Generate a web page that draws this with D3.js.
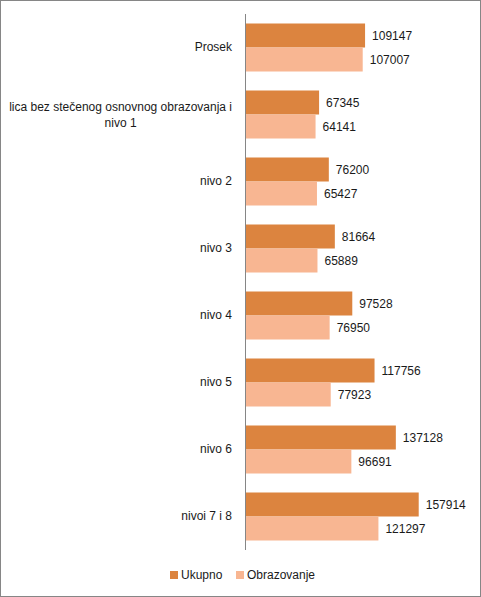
<!DOCTYPE html>
<html lang="sr">
<head>
<meta charset="utf-8">
<title>Ukupno / Obrazovanje</title>
<script src="https://cdn.jsdelivr.net/npm/d3@7"></script>
<style>
    body { margin: 0; background: #fff; }
    svg { display: block; font-family: "Liberation Sans", Arial, sans-serif; font-size: 12px; }
    .frame { fill: #fff; stroke: #868686; stroke-width: 1; }
    .axis line, .axis path { stroke: #868686; }
    .lbl { fill: #1a1a1a; }
</style>
</head>
<body>
<svg></svg>
<script>
    // categories, top to bottom
    var categories = ["Prosek", "lica bez stečenog osnovnog obrazovanja i nivo 1", "nivo 2", "nivo 3",
        "nivo 4", "nivo 5", "nivo 6", "nivoi 7 i 8"];
    var seriesNames = ["Ukupno", "Obrazovanje"];
    var ukupno = [109147, 67345, 76200, 81664, 97528, 117756, 137128, 157914];
    var obrazovanje = [107007, 64141, 65427, 65889, 76950, 77923, 96691, 121297];
    var colors = ["#DC843F", "#F8B692"];

    var width = 481, height = 597;

    var svg = d3.select("svg")
        .attr("width", width)
        .attr("height", height);

    svg.append("rect")
        .attr("class", "frame")
        .attr("x", 0.5).attr("y", 0.5)
        .attr("width", width - 1).attr("height", height - 1);

    var rows = categories.map(function (c, i) {
        return {cat: c, values: [ukupno[i], obrazovanje[i]]};
    });

    var pad = 19 / 67;
    var y = d3.scaleBand()
        .domain(categories)
        .range([14, 550])
        .paddingInner(pad)
        .paddingOuter(pad / 2);

    var ySub = d3.scaleBand()
        .domain(seriesNames)
        .range([0, y.bandwidth()]);

    var x = d3.scaleLinear()
        .domain([0, 180000])
        .range([245, 443]);

    // bars
    var groups = svg.selectAll("g.row")
        .data(rows)
        .enter().append("g")
        .attr("class", "row")
        .attr("transform", function (d) { return "translate(0," + y(d.cat) + ")"; });

    groups.selectAll("rect")
        .data(function (d) { return d.values.map(function (v, k) { return {name: seriesNames[k], v: v, k: k}; }); })
        .enter().append("rect")
        .attr("x", x(0))
        .attr("y", function (d) { return ySub(d.name); })
        .attr("width", function (d) { return x(d.v) - x(0); })
        .attr("height", ySub.bandwidth())
        .attr("fill", function (d) { return colors[d.k]; });

    groups.selectAll("text.val")
        .data(function (d) { return d.values.map(function (v, k) { return {name: seriesNames[k], v: v}; }); })
        .enter().append("text")
        .attr("class", "val lbl")
        .attr("x", function (d) { return x(d.v) + 7; })
        .attr("y", function (d) { return ySub(d.name) + ySub.bandwidth() / 2; })
        .attr("dy", "0.35em")
        .text(function (d) { return d.v; });

    // category axis, no ticks
    var axis = svg.append("g")
        .attr("class", "axis")
        .attr("transform", "translate(" + x(0) + ",0)")
        .call(d3.axisLeft(y).tickSize(0).tickPadding(13));
    axis.select(".domain").attr("d", "M0.5,14V550");
    axis.selectAll("text")
        .attr("class", "lbl")
        .style("font-family", "inherit")
        .style("font-size", "12px")
        .call(wrap, 226);

    // wrap long labels into centered lines, block right aligned
    function wrap(texts, maxW) {
        texts.each(function () {
            var t = d3.select(this);
            var words = t.text().split(" ");
            var lines = [], line = [];
            t.text(null);
            var probe = t.append("tspan");
            words.forEach(function (w) {
                line.push(w);
                probe.text(line.join(" "));
                if (probe.node().getComputedTextLength() > maxW && line.length > 1) {
                    line.pop();
                    lines.push(line.join(" "));
                    line = [w];
                }
            });
            lines.push(line.join(" "));
            probe.remove();
            if (lines.length === 1) {
                t.text(lines[0]);
                return;
            }
            var widths = lines.map(function (l) {
                var s = t.append("tspan").text(l);
                var w = s.node().getComputedTextLength();
                s.remove();
                return w;
            });
            var blockW = d3.max(widths);
            var xRight = +t.attr("x");
            var lh = 16;
            t.attr("text-anchor", "middle").attr("dy", null);
            lines.forEach(function (l, i) {
                t.append("tspan")
                    .attr("x", xRight - blockW / 2)
                    .attr("y", (i - (lines.length - 1) / 2) * lh)
                    .attr("dy", "0.35em")
                    .text(l);
            });
        });
    }

    // legend
    var legend = svg.append("g").attr("transform", "translate(170,571)");
    var lx = [0, 66];
    seriesNames.forEach(function (n, i) {
        legend.append("rect")
            .attr("x", lx[i]).attr("y", 0)
            .attr("width", 8).attr("height", 8)
            .attr("fill", colors[i]);
        legend.append("text")
            .attr("class", "lbl")
            .attr("x", lx[i] + 11)
            .attr("y", 4)
            .attr("dy", "0.35em")
            .text(n);
    });
</script>
</body>
</html>
